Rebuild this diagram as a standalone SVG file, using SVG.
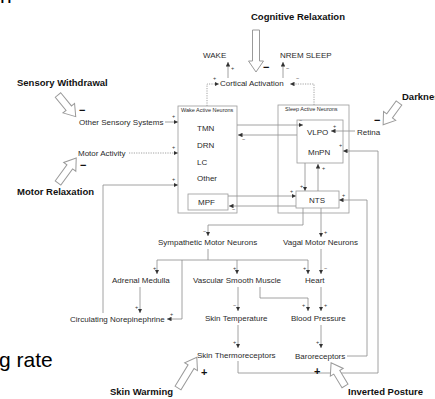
<svg xmlns="http://www.w3.org/2000/svg" width="435" height="399" viewBox="0 0 435 399">
<style>
text{font-family:"Liberation Sans",Arial,sans-serif;fill:#2a2a2a}
.t{font-size:8px}
.b{font-size:9.5px;font-weight:bold;fill:#111}
.h{font-size:5.5px}
.s{font-size:5.5px;fill:#333}
.big{font-size:11px;font-weight:bold;fill:#111}
.box{fill:none;stroke:#9a9a9a;stroke-width:0.8}
.c{fill:none;stroke:#8a8a8a;stroke-width:0.8}
.d{stroke-dasharray:1.2 1.2}
.a{marker-end:url(#ah)}
.ha{fill:#fff;stroke:#9a9a9a;stroke-width:1}
</style>
<defs>
<marker id="ah" viewBox="0 0 6 6" refX="6" refY="3" markerWidth="4.5" markerHeight="4.5" markerUnits="userSpaceOnUse" orient="auto"><path d="M0,0 L6,3 L0,6 z" fill="#333"/></marker>
</defs>
<rect width="435" height="399" fill="#fff"/>
<text x="0" y="3" style="font-size:21px;fill:#000">n</text>
<text x="-1" y="367" style="font-size:21px;fill:#000">g rate</text>

<g id="connectors">
<path class="c d a" d="M207,106 V84 H219"/>
<path class="c d a" d="M314,105 V84 H290"/>
<path class="c a" d="M228,78 V62"/>
<path class="c a" d="M283,78 V62"/>
<path class="c a" d="M165,122 H178"/>
<path class="c d a" d="M129,153 H178"/>
<path class="c a" d="M103,313 V185 H178"/>
<path class="c a" d="M237,125 H303"/>
<path class="c a" d="M297,135 H238"/>
<path class="c a" d="M355,131 H331"/>
<path class="c a" d="M238,361 V373 H378 V151 H343"/>
<path class="c a" d="M305,163 V191"/>
<path class="c a" d="M318,191 V164"/>
<path class="c a" d="M321,208 V237"/>
<path class="c a" d="M303,208 V225 H208 V236"/>
<path class="c a" d="M228,196 H296"/>
<path class="c a" d="M296,206 H229"/>
<path class="c a" d="M347,356 H367 V200 H339"/>
<path class="c" d="M208,249 V260 M157,260 H308"/>
<path class="c a" d="M157,260 V274"/>
<path class="c a" d="M237,260 V274"/>
<path class="c a" d="M308,260 V274"/>
<path class="c a" d="M182,260 V319 H167"/>
<path class="c a" d="M321,249 V274"/>
<path class="c a" d="M140,287 V313"/>
<path class="c a" d="M238,287 V311"/>
<path class="c a" d="M260,287 V298 H308 V311"/>
<path class="c a" d="M321,287 V311"/>
<path class="c a" d="M238,325 V348"/>
<path class="c a" d="M321,325 V348"/>
<text class="s" x="213" y="80">+</text>
<text class="s" x="296" y="80">−</text>
<text class="s" x="231" y="70">+</text>
<text class="s" x="286" y="70">−</text>
<text class="s" x="172" y="118">+</text>
<text class="s" x="172" y="149">+</text>
<text class="s" x="172" y="181">+</text>
<text class="s" x="299" y="122">−</text>
<text class="s" x="242" y="141">−</text>
<text class="s" x="333" y="128">+</text>
<text class="s" x="339" y="147">+</text>
<text class="s" x="300" y="188">+</text>
<text class="s" x="322" y="170">+</text>
<text class="s" x="324" y="234">+</text>
<text class="s" x="203" y="233">−</text>
<text class="s" x="290" y="193">+</text>
<text class="s" x="232" y="211">−</text>
<text class="s" x="342" y="197">+</text>
<text class="s" x="153" y="270">+</text>
<text class="s" x="233" y="270">+</text>
<text class="s" x="303" y="270">+</text>
<text class="s" x="170" y="316">+</text>
<text class="s" x="324" y="270">−</text>
<text class="s" x="135" y="309">+</text>
<text class="s" x="233" y="307">−</text>
<text class="s" x="302" y="307">+</text>
<text class="s" x="324" y="307">+</text>
<text class="s" x="233" y="344">+</text>
<text class="s" x="316" y="344">+</text>
</g>

<g id="cognitive-relaxation">
<text class="b" x="251" y="20">Cognitive Relaxation</text>
<polygon class="ha" transform="translate(256,30) rotate(90)" points="0,-3.5 31,-3.5 31,-7.5 42,0 31,7.5 31,3.5 0,3.5"/>
<text class="big" x="263" y="70.5">−</text>
</g>
<g id="wake"><text class="t" x="203" y="58">WAKE</text></g>
<g id="nrem-sleep"><text class="t" x="280" y="58">NREM SLEEP</text></g>
<g id="cortical-activation"><text class="t" x="220" y="86">Cortical Activation</text></g>

<g id="sensory-withdrawal">
<text class="b" x="17" y="86">Sensory Withdrawal</text>
<polygon class="ha" transform="translate(58,95) rotate(50.7)" points="0,-3.5 17,-3.5 17,-7.5 28,0 17,7.5 17,3.5 0,3.5"/>
<text class="big" x="79" y="113.6">−</text>
</g>
<g id="other-sensory-systems"><text class="t" x="79" y="125">Other Sensory Systems</text></g>
<g id="motor-activity"><text class="t" x="78" y="156">Motor Activity</text></g>
<g id="motor-relaxation">
<text class="b" x="17" y="195">Motor Relaxation</text>
<polygon class="ha" transform="translate(58,183) rotate(-54)" points="0,-3.5 20,-3.5 20,-7.5 31,0 20,7.5 20,3.5 0,3.5"/>
<text class="big" x="80" y="168.6">−</text>
</g>

<g id="wake-active-neurons">
<rect class="box" x="178" y="106" width="59" height="107"/>
<text class="h" x="181" y="112">Wake Active Neurons</text>
<text class="t" x="197" y="131">TMN</text>
<text class="t" x="197" y="148">DRN</text>
<text class="t" x="197" y="165">LC</text>
<text class="t" x="197" y="181">Other</text>
</g>
<g id="mpf">
<rect class="box" x="188" y="194" width="40" height="16"/>
<text class="t" x="198" y="205">MPF</text>
</g>

<g id="sleep-active-neurons">
<rect class="box" x="278" y="105" width="71" height="108"/>
<text class="h" x="285" y="111">Sleep Active Neurons</text>
<rect class="box" x="297" y="120" width="46" height="43"/>
<text class="t" x="307" y="135">VLPO</text>
<text class="t" x="308" y="155">MnPN</text>
</g>
<g id="nts">
<rect class="box" x="296" y="191" width="43" height="17"/>
<text class="t" x="309" y="203">NTS</text>
</g>

<g id="darkness">
<text class="b" x="402" y="100">Darkness</text>
<polygon class="ha" transform="translate(399,103) rotate(126)" points="0,-3.5 16,-3.5 16,-7.5 27,0 16,7.5 16,3.5 0,3.5"/>
<text class="big" x="374" y="123.6">−</text>
</g>
<g id="retina"><text class="t" x="357" y="135">Retina</text></g>

<g id="sympathetic-motor-neurons"><text class="t" x="158" y="245">Sympathetic Motor Neurons</text></g>
<g id="vagal-motor-neurons"><text class="t" x="283" y="245">Vagal Motor Neurons</text></g>
<g id="adrenal-medulla"><text class="t" x="112" y="283">Adrenal Medulla</text></g>
<g id="vascular-smooth-muscle"><text class="t" x="193" y="283">Vascular Smooth Muscle</text></g>
<g id="heart"><text class="t" x="305" y="283">Heart</text></g>
<g id="circulating-norepinephrine"><text class="t" x="70" y="322">Circulating Norepinephrine</text></g>
<g id="skin-temperature"><text class="t" x="205" y="321">Skin Temperature</text></g>
<g id="blood-pressure"><text class="t" x="291" y="321">Blood Pressure</text></g>
<g id="skin-thermoreceptors"><text class="t" x="197" y="358">Skin Thermoreceptors</text></g>
<g id="baroreceptors"><text class="t" x="295" y="359">Baroreceptors</text></g>

<g id="skin-warming">
<text class="b" x="110" y="395">Skin Warming</text>
<polygon class="ha" transform="translate(178,388) rotate(-58.5)" points="0,-3.5 25,-3.5 25,-7.5 36,0 25,7.5 25,3.5 0,3.5"/>
<text class="big" x="201" y="376">+</text>
</g>
<g id="inverted-posture">
<text class="b" x="348" y="395">Inverted Posture</text>
<polygon class="ha" transform="translate(345,386) rotate(-121)" points="0,-3.5 16,-3.5 16,-7.5 27,0 16,7.5 16,3.5 0,3.5"/>
<text class="big" x="314" y="375">+</text>
</g>
</svg>
